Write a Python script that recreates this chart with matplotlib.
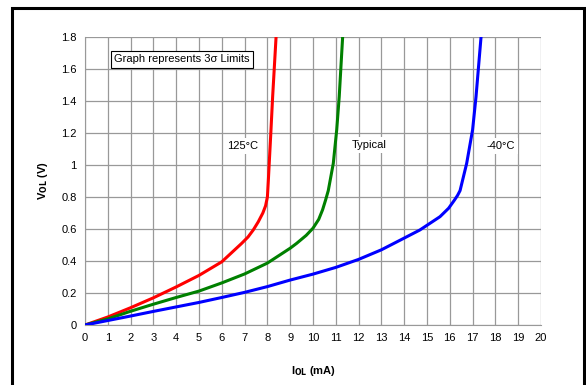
import matplotlib.pyplot as plt
from matplotlib.patches import Rectangle

plt.rcParams['font.family'] = ['Liberation Sans', 'DejaVu Sans']

# 125 C curve
hot_i = [0, 1, 2, 3, 4, 5, 6, 6.87, 7.15, 7.38, 7.6, 7.8, 7.92, 8.0, 8.04, 8.08, 8.15, 8.23, 8.38]
hot_v = [0, 0.05, 0.108, 0.17, 0.238, 0.31, 0.395, 0.51, 0.55, 0.594, 0.645, 0.7, 0.745, 0.8, 0.9, 1.01, 1.2, 1.427, 1.8]
# typical
typ_i = [0, 1, 2, 3, 4, 5, 6, 7, 8, 9, 9.28, 9.7, 10.0, 10.25, 10.42, 10.55, 10.67, 10.89, 11.04, 11.15, 11.3]
typ_v = [0, 0.038, 0.086, 0.13, 0.172, 0.212, 0.263, 0.319, 0.387, 0.48, 0.51, 0.56, 0.605, 0.66, 0.72, 0.78, 0.84, 1.01, 1.22, 1.427, 1.8]
# -40 C
cold_i = [0, 1, 2, 3, 4, 5, 6, 7, 8, 9, 10, 11, 12, 13, 13.82, 14.69, 15.57, 15.95, 16.2, 16.34, 16.45, 16.74, 17.0, 17.15, 17.37]
cold_v = [0, 0.028, 0.056, 0.085, 0.113, 0.141, 0.172, 0.204, 0.24, 0.281, 0.318, 0.36, 0.41, 0.47, 0.53, 0.594, 0.677, 0.73, 0.78, 0.81, 0.84, 1.01, 1.22, 1.427, 1.8]

xticks = list(range(0, 21))
yticks = [0, 0.2, 0.4, 0.6, 0.8, 1.0, 1.2, 1.4, 1.6, 1.8]
ylabels = ['0', '0.2', '0.4', '0.6', '0.8', '1', '1.2', '1.4', '1.6', '1.8']

fig = plt.figure(figsize=(5.86, 3.85), dpi=100)
ax = fig.add_axes([85/586, 1 - 325/385, 456/586, 288/385])

for xs, ys, c in [(hot_i, hot_v, '#ff0000'), (typ_i, typ_v, '#008000'), (cold_i, cold_v, '#0000ff')]:
    ax.plot(xs, ys, color=c, lw=2.2, zorder=3, solid_joinstyle='round', solid_capstyle='round')

ax.set_xlim(0, 20)
ax.set_ylim(0, 1.8)
ax.set_xticks(xticks)
ax.set_yticks(yticks)
ax.set_yticklabels(ylabels)
ax.tick_params(length=0, labelsize=8, pad=6)
ax.grid(True, color='#999999', lw=0.9)
ax.set_axisbelow(True)
for s in ax.spines.values():
    s.set_visible(False)
ax.spines['bottom'].set_visible(True)
ax.spines['bottom'].set_color('#999999')
ax.spines['left'].set_visible(True)
ax.spines['left'].set_color('#999999')

ax.set_xlabel('I$_{\\mathbf{OL}}$ (mA)', fontsize=8, fontweight='bold', labelpad=15)
ax.set_ylabel('V$_{\\mathbf{OL}}$ (V)', fontsize=8, fontweight='bold', labelpad=8)

bg = dict(facecolor='white', edgecolor='none', pad=2)
ax.text(6.93, 1.12, '125°C', fontsize=8, ha='center', va='center', bbox=bg, zorder=2)
ax.text(12.45, 1.125, 'Typical', fontsize=8, ha='center', va='center', bbox=bg, zorder=2)
ax.text(18.25, 1.12, '-40°C', fontsize=8, ha='center', va='center', bbox=bg, zorder=2)
ax.text(1.28, 1.66, 'Graph represents 3σ Limits', fontsize=8, ha='left', va='center',
        bbox=dict(facecolor='white', edgecolor='black', lw=0.8, pad=2.5), zorder=4)

fig.patches.append(Rectangle((12/586, -0.05), 572/586, 1 - 8/385 + 0.05,
                             transform=fig.transFigure, fill=False,
                             edgecolor='black', lw=2.2))

fig.savefig('out.png', dpi=100)
